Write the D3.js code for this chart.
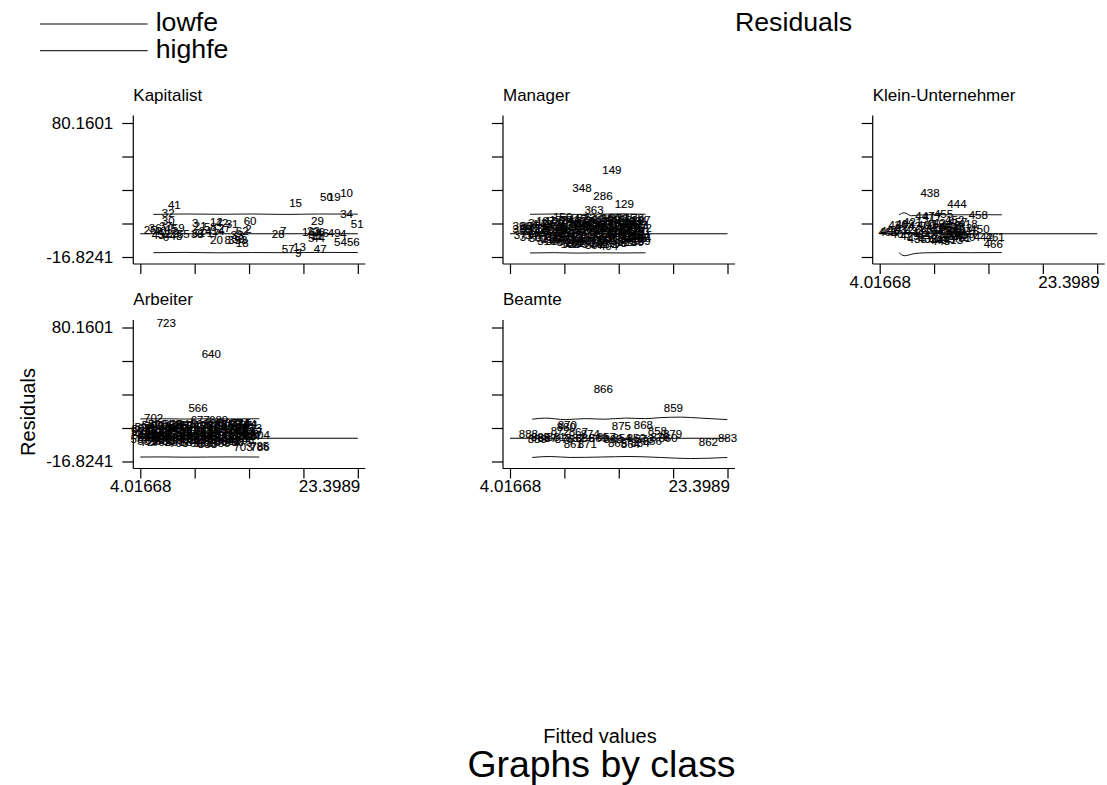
<!DOCTYPE html>
<html>
<head>
<meta charset="utf-8">
<script src="https://cdn.jsdelivr.net/npm/d3@7"></script>
<style>
body { margin: 0; background: #fff; }
text { font-family: "Liberation Sans", Arial, Helvetica, sans-serif; }
</style>
</head>
<body>
<div id="chart-area"></div>
<script>
// ---- data ----
var classes = ["Kapitalist", "Manager", "Klein-Unternehmer", "Arbeiter", "Beamte"];
var xTicks = [4.01668, 8.86224, 13.7078, 18.5533, 23.3989];
var xTickLabels = ["4.01668", "", "", "", "23.3989"];
var yTicks = [-16.8241, 7.42195, 31.668, 55.91405, 80.1601];
var yTickLabels = ["-16.8241", "", "", "", "80.1601"];
var legendLabels = ["lowfe", "highfe"];

// [obs, fitted, residual]
var kapitalist = [
  [41, 7.05, 20.9], [32, 6.5, 15.2], [30, 6.5, 9.4], [37, 6.3, 5.8], [36, 5.35, 4.3],
  [25, 4.9, 2.9], [40, 5.8, 2.2], [45, 6.7, 3.6], [52, 6.1, 0.0], [22, 6.9, 0.7],
  [43, 5.6, -1.0], [6, 6.3, -2.2], [48, 7.2, -1.2], [59, 7.4, 4.3], [55, 7.85, 0.0],
  [38, 9.1, 0.0], [3, 8.9, 8.0], [21, 9.35, 5.8], [58, 10.25, 5.1], [24, 9.8, 2.2],
  [14, 10.95, 2.2], [12, 10.8, 8.7], [42, 11.3, 8.0], [27, 11.5, 4.3], [17, 10.5, 0.7],
  [31, 12.2, 7.2], [20, 10.8, -4.3], [8, 11.8, -4.3], [35, 12.4, -4.3], [39, 12.75, -3.6],
  [53, 13.0, -4.3], [33, 12.65, -1.0], [60, 13.8, 9.4], [62, 13.1, 2.2], [2, 13.65, 3.6],
  [18, 13.1, -6.5], [28, 16.3, 0.0], [7, 16.75, 2.2], [15, 17.85, 22.4], [57, 17.2, -11.0],
  [13, 18.2, -9.4], [9, 18.1, -13.7], [47, 20.05, -11.0], [50, 20.6, 26.7], [19, 21.3, 26.7],
  [10, 22.4, 29.6], [34, 22.4, 14.4], [51, 23.35, 7.2], [29, 19.8, 9.4], [16, 19.0, 1.5],
  [23, 19.45, 2.2], [26, 19.9, 1.5], [46, 20.25, 0.7], [11, 19.7, -1.0], [44, 19.9, -2.9],
  [49, 21.3, 0.7], [4, 22.1, 0.0], [54, 21.85, -5.8], [56, 23.0, -5.8], [5, 19.25, -2.9],
  [61, 9.2, 0.7]
];

var manager = [
  [149, 13.1, 46.2], [348, 10.43, 33.0], [286, 12.3, 27.4], [129, 14.2, 21.7], [363, 11.5, 17.0],
  [156, 8.7, 12.3], [404, 12.8, -8.5], [253, 15.3, -3.1], [396, 5.1, 5.8],
  [388, 5.1, 3.4], [371, 5.2, -0.5],
  [305, 5.8, 5.6], [214, 5.9, 2.0], [377, 5.75, -2.4],
  [342, 6.5, 8.2], [118, 6.6, 4.5], [265, 6.45, 0.9], [301, 6.55, -3.0],
  [187, 7.2, 9.0], [92, 7.3, 5.0], [233, 7.25, 1.4], [170, 7.2, -2.3], [319, 7.3, -5.2],
  [108, 8.0, 9.6], [276, 7.9, 5.9], [141, 8.0, 2.3], [203, 7.95, -1.3], [355, 8.05, -5.0],
  [229, 8.7, 8.4], [99, 8.6, 4.6], [312, 8.7, 1.0], [167, 8.65, -2.6], [84, 8.75, -6.0],
  [244, 9.4, 10.2], [136, 9.35, 6.3], [295, 9.45, 2.7], [71, 9.4, -0.9], [330, 9.35, -4.5], [182, 9.4, -7.4],
  [117, 10.1, 10.9], [258, 10.05, 7.1], [88, 10.15, 3.4], [361, 10.1, -0.3], [205, 10.05, -3.8], [279, 10.1, -7.6],
  [323, 10.8, 11.5], [152, 10.85, 7.8], [240, 10.8, 4.0], [77, 10.75, 0.5], [338, 10.8, -3.2], [191, 10.85, -6.8],
  [267, 11.5, 10.0], [125, 11.55, 6.4], [352, 11.5, 2.8], [96, 11.6, -0.8], [218, 11.5, -4.4], [307, 11.55, -8.0],
  [174, 12.25, 10.9], [333, 12.2, 7.3], [249, 12.3, 3.6], [113, 12.25, 0.0], [290, 12.2, -3.6], [65, 12.3, -7.3],
  [380, 12.95, 11.6], [146, 13.0, 8.0], [211, 12.9, 4.4], [299, 13.0, 0.7], [81, 12.95, -2.9],
  [236, 13.7, 11.7], [164, 13.6, 8.1], [345, 13.7, 4.5], [102, 13.65, 0.8], [271, 13.7, -2.9], [198, 13.6, -6.3],
  [315, 14.4, 11.8], [133, 14.35, 8.8], [260, 14.4, 5.2], [90, 14.4, 1.5], [367, 14.35, -2.1], [222, 14.4, -5.7],
  [178, 15.1, 11.6], [283, 15.05, 8.0], [105, 15.1, 4.4], [340, 15.1, 0.8], [226, 15.05, -2.8], [159, 15.1, -5.6],
  [297, 15.7, 10.0], [73, 15.75, 6.3], [251, 15.7, 2.2], [384, 15.65, -1.3], [139, 15.7, -4.9],
  [143, 6.9, 6.8], [327, 7.6, 3.2], [120, 8.3, 7.0], [264, 8.35, -3.9], [357, 9.0, 0.3],
  [93, 9.75, 8.6], [209, 9.8, -5.8], [302, 10.45, 9.2], [68, 10.5, 1.9], [246, 11.2, -1.9],
  [374, 11.2, 9.0], [185, 11.85, 5.0], [318, 11.9, -5.6], [127, 12.6, 9.4], [273, 12.6, -1.0],
  [201, 13.3, 6.2], [335, 13.3, -5.2], [155, 14.0, 10.3], [288, 14.05, 2.8], [110, 14.7, -0.6],
  [358, 14.75, 6.8], [231, 15.45, 9.4], [79, 15.45, 1.1], [292, 15.8, 4.3], [194, 15.75, -2.8],
  [94, 5.5, 4.0], [347, 6.2, -0.8], [121, 6.9, 2.9], [215, 7.6, -3.4], [369, 8.3, 3.8],
  [173, 8.4, 10.4], [257, 9.0, 5.3], [101, 9.05, -2.4], [326, 9.7, 0.9], [282, 9.75, -6.6],
  [188, 10.4, 5.5], [393, 10.45, -4.8], [119, 11.15, 8.2], [360, 11.1, 3.5], [227, 11.85, 8.6],
  [74, 11.9, 1.3], [311, 12.55, 5.8], [161, 12.6, -4.6], [86, 13.3, 9.8], [254, 13.35, 2.3],
  [379, 13.35, -1.9], [196, 14.0, 6.6], [134, 14.05, -3.9], [329, 14.7, 3.4], [268, 14.75, -4.2],
  [207, 15.45, 6.2], [115, 15.45, -3.3], [391, 12.0, -7.6]
];

var klein = [
  [438, 8.5, 29.6], [444, 10.9, 21.7], [455, 9.7, 14.4], [447, 8.05, 13.0], [417, 8.7, 12.3],
  [458, 12.8, 13.7], [452, 10.7, 10.1], [457, 11.0, 8.7], [418, 11.9, 7.2], [450, 12.95, 3.6],
  [436, 5.65, 6.5], [409, 6.27, 7.2], [403, 5.55, 2.9], [406, 4.93, 2.2], [463, 4.76, 1.5],
  [421, 6.95, 8.7], [427, 7.4, 5.8], [412, 6.3, 3.6], [433, 7.1, 2.2], [405, 5.85, 0.0],
  [429, 6.7, -1.4], [411, 7.75, 0.7], [401, 8.2, 6.5], [419, 8.95, 7.2], [424, 9.6, 8.0],
  [448, 10.3, 5.8], [431, 8.5, 2.9], [426, 9.4, 3.6], [414, 10.0, 2.2], [445, 10.75, 2.9],
  [462, 11.4, 4.3], [422, 8.05, -0.7], [437, 8.85, -0.7], [453, 9.55, 0.0], [407, 10.3, -1.4],
  [460, 11.0, -0.7], [415, 11.6, 0.0], [432, 8.3, -3.6], [440, 9.2, -4.3], [449, 9.9, -3.6],
  [413, 10.6, -4.3], [451, 11.3, -2.9], [416, 12.0, 2.2], [435, 7.35, -3.6], [443, 9.45, -5.0],
  [442, 13.25, -1.9], [461, 14.3, -1.9], [466, 14.14, -7.4], [428, 9.0, 4.8], [454, 10.1, 4.8],
  [410, 10.8, 0.3], [420, 11.7, -2.0]
];

var arbeiter = [
  [723, 6.33, 83.2], [640, 10.34, 60.9], [566, 9.16, 22.3], [702, 5.2, 14.7], [677, 9.36, 13.5],
  [689, 11.0, 13.5], [744, 13.53, 10.4], [804, 14.71, 2.4], [780, 13.55, 2.0], [703, 13.17, -6.0],
  [786, 14.7, -6.0], [785, 14.65, -5.6], [774, 12.9, 10.8], [838, 10.0, -3.8], [508, 4.1, 6.5],
  [512, 4.05, 5.6], [543, 4.1, 2.3], [587, 4.0, -0.6],
  [621, 4.6, 7.6], [498, 4.7, 4.0], [655, 4.65, 0.9], [531, 4.6, -1.8],
  [709, 5.25, 8.8], [574, 5.3, 5.2], [480, 5.2, 2.0], [612, 5.3, -1.1],
  [733, 5.9, 9.3], [519, 5.85, 6.2], [648, 5.9, 3.0], [591, 5.95, -0.2], [762, 5.9, -2.3],
  [486, 6.5, 8.6], [695, 6.55, 5.5], [557, 6.5, 2.2], [811, 6.45, -0.9],
  [602, 7.15, 9.4], [747, 7.1, 6.6], [525, 7.2, 3.5], [668, 7.15, 0.4], [590, 7.1, -2.6],
  [813, 7.8, 8.9], [538, 7.75, 5.7], [711, 7.8, 2.5], [476, 7.75, -0.7],
  [629, 8.4, 9.6], [581, 8.35, 6.5], [760, 8.4, 3.2], [503, 8.45, 0.1], [684, 8.4, -2.9],
  [545, 9.0, 8.7], [796, 9.05, 5.4], [617, 9.0, 2.0], [729, 9.05, -1.3],
  [490, 9.6, 9.5], [662, 9.65, 6.2], [548, 9.6, 3.0], [819, 9.65, -0.3], [598, 9.6, -3.2],
  [737, 10.25, 8.9], [515, 10.3, 5.4], [643, 10.25, 2.1], [776, 10.3, -1.4],
  [569, 10.9, 9.8], [698, 10.85, 6.6], [482, 10.9, 3.3], [633, 10.85, 0.0], [756, 10.9, -2.5],
  [826, 11.5, 10.3], [552, 11.55, 7.1], [671, 11.5, 3.8], [527, 11.5, 0.6], [604, 11.55, -2.0],
  [718, 12.1, 10.6], [495, 12.15, 7.4], [752, 12.1, 4.1], [585, 12.15, 0.9], [692, 12.1, -1.6],
  [534, 12.75, 9.9], [789, 12.7, 6.8], [626, 12.8, 3.6], [473, 12.75, 0.4],
  [661, 13.4, 8.4], [563, 13.35, 5.1], [742, 13.4, 1.9], [606, 13.3, -0.9],
  [833, 14.0, 7.2], [517, 14.05, 4.4], [687, 14.0, 1.4],
  [594, 4.35, 8.0], [727, 4.9, -2.6], [500, 5.55, 10.2], [651, 6.2, -1.9], [578, 6.85, 10.3],
  [705, 7.45, -3.0], [541, 8.1, 10.6], [766, 8.7, -3.4], [609, 9.3, 10.7], [484, 9.95, -2.9],
  [680, 10.55, 11.0], [559, 11.2, -3.0], [801, 11.8, 11.2], [636, 12.4, -2.4], [715, 13.05, 10.9],
  [571, 13.7, 9.6], [529, 12.4, 5.8], [657, 7.5, 7.3], [740, 9.9, 7.9], [506, 11.2, 1.7],
  [614, 5.6, 0.2],
  [493, 4.3, 3.4], [522, 4.95, 1.2], [539, 5.55, 6.9], [565, 6.2, 4.1], [588, 6.85, 1.0],
  [611, 7.45, 4.6], [635, 8.1, 1.6], [659, 8.7, 5.5], [683, 9.3, 0.8], [707, 9.95, 4.4],
  [731, 10.55, 0.9], [755, 11.2, 4.8], [779, 11.85, 8.8], [803, 12.45, 1.8], [827, 13.1, 4.8],
  [478, 13.75, 2.9], [501, 8.1, -1.3], [523, 11.8, -0.6], [547, 5.0, 9.6], [575, 13.1, -2.4],
  [596, 7.4, 10.0]
];

var beamte = [
  [866, 12.33, 35.7], [859, 18.58, 22.1], [875, 13.94, 9.1], [868, 15.9, 9.9], [858, 17.15, 5.5],
  [879, 18.5, 3.4], [870, 9.12, 9.9], [880, 9.03, 8.4], [872, 8.5, 5.5], [867, 10.1, 4.8],
  [874, 11.17, 3.4], [888, 5.65, 3.4], [885, 6.72, 1.2], [887, 7.35, 0.5], [881, 8.15, 1.2],
  [876, 8.86, -0.2], [882, 9.84, 0.5], [861, 9.66, -3.8], [871, 10.9, -3.8], [869, 11.9, 0.5],
  [857, 12.6, 1.2], [863, 13.2, -0.2], [854, 14.0, 0.5], [865, 13.6, -3.1], [864, 14.74, -3.8],
  [852, 15.27, 0.5], [873, 15.98, -0.2], [856, 16.7, -1.7], [878, 17.4, 1.2], [860, 18.1, 0.5],
  [884, 15.6, -3.1], [862, 21.7, -2.4], [883, 23.4, 0.5], [886, 10.7, 0.5], [889, 6.45, -0.2]
];

// lowfe / highfe bands: [fitted, value]
var kapitalistLow = [[5.18, -13.7], [8, -13.5], [11, -13.8], [14, -13.6], [17, -13.7], [20, -13.5], [23.4, -13.6]];
var kapitalistHigh = [[5.18, 14.0], [8, 14.3], [11, 14.1], [14, 14.3], [17, 14.0], [20, 14.3], [23.4, 14.2]];
var managerLow = [[5.8, -13.9], [8, -13.7], [10, -14.0], [12, -13.8], [14, -13.9], [16.1, -13.8]];
var managerHigh = [[5.8, 14.1], [8, 14.3], [10, 14.0], [12, 14.2], [14, 14.4], [16.1, 14.1]];
var kleinLow = [[5.74, -13.7], [6.2, -15.9], [7.1, -14.4], [8, -13.8], [10, -13.6], [12, -13.7], [14.9, -13.6]];
var kleinHigh = [[5.74, 13.7], [6.2, 15.2], [6.85, 13.0], [7.5, 13.6], [9, 13.8], [11, 13.7], [13, 13.8], [14.9, 13.7]];
var arbeiterLow = [[4.02, -13.6], [6, -13.5], [8, -13.7], [10, -13.6], [12, -13.5], [14.62, -13.6]];
var arbeiterHigh = [[4.02, 14.0], [6, 14.1], [8, 13.9], [10, 14.1], [12, 14.0], [14.62, 14.1]];
var beamteLow = [[6.0, -13.9], [7.6, -13.2], [9.4, -13.9], [12.1, -13.6], [14.7, -13.2], [17.4, -13.9], [20.1, -14.7], [23.38, -13.9]];
var beamteHigh = [[6.0, 13.8], [7.16, 14.6], [8.95, 13.5], [10.73, 14.2], [12.51, 13.8], [14.29, 14.6], [16.07, 14.2], [17.41, 14.9], [19.2, 15.3], [20.98, 14.6], [23.38, 13.5]];

// ---- layout ----
var width = 1107, height = 785;
var colX = [133.3, 503, 872.7];
var rowTop = [115.5, 320];
var rowBottom = [264, 468.5];

var panels = [
  { name: classes[0], col: 0, row: 0, pts: kapitalist, low: kapitalistLow, high: kapitalistHigh },
  { name: classes[1], col: 1, row: 0, pts: manager, low: managerLow, high: managerHigh },
  { name: classes[2], col: 2, row: 0, pts: klein, low: kleinLow, high: kleinHigh },
  { name: classes[3], col: 0, row: 1, pts: arbeiter, low: arbeiterLow, high: arbeiterHigh },
  { name: classes[4], col: 1, row: 1, pts: beamte, low: beamteLow, high: beamteHigh }
];
// panels that carry x tick labels (bottom of their column)
var showX = { "Klein-Unternehmer": true, "Arbeiter": true, "Beamte": true };

var svg = d3.select("#chart-area")
  .append("svg")
    .attr("width", width)
    .attr("height", height);

svg.append("rect").attr("width", width).attr("height", height).attr("fill", "#fff");

panels.forEach(function(p){
  var ax = colX[p.col],
      top = rowTop[p.row],
      bottom = rowBottom[p.row];

  var x = d3.scaleLinear()
    .domain([xTicks[0], xTicks[4]])
    .range([ax + 7, ax + 224.5]);
  var y = d3.scaleLinear()
    .domain([yTicks[0], yTicks[4]])
    .range([bottom - 7, top + 7.5]);

  var g = svg.append("g");

  // title
  g.append("text")
    .attr("x", ax)
    .attr("y", top - 15)
    .attr("font-size", "17px")
    .text(p.name);

  // y axis
  var yAxis = d3.axisLeft(y)
    .tickValues(yTicks)
    .tickSize(11)
    .tickPadding(9)
    .tickFormat(function(d, i){ return p.col === 0 ? yTickLabels[i] : ""; });
  var ya = g.append("g")
    .attr("transform", "translate(" + ax + ",0)")
    .call(yAxis);
  ya.select(".domain").remove();
  ya.selectAll("line").attr("stroke", "#000").attr("stroke-width", 1.2);
  ya.selectAll("text").attr("font-size", "17px").attr("fill", "#000")
    .style("font-family", "'Liberation Sans', Arial, sans-serif");

  // x axis
  var xAxis = d3.axisBottom(x)
    .tickValues(xTicks)
    .tickSize(10)
    .tickPadding(1.5)
    .tickFormat(function(d, i){ return showX[p.name] ? xTickLabels[i] : ""; });
  var xa = g.append("g")
    .attr("transform", "translate(0," + bottom + ")")
    .call(xAxis);
  xa.select(".domain").remove();
  xa.selectAll("line").attr("stroke", "#000").attr("stroke-width", 1.2);
  xa.selectAll("text").attr("font-size", "17px").attr("fill", "#000")
    .style("font-family", "'Liberation Sans', Arial, sans-serif");
  xa.selectAll(".tick").filter(function(d, i){ return i === 4; }).select("text")
    .attr("text-anchor", "end")
    .attr("x", 2);

  // axis lines (span the whole plot region)
  g.append("line")
    .attr("x1", ax).attr("x2", ax)
    .attr("y1", top).attr("y2", bottom)
    .attr("stroke", "#000").attr("stroke-width", 1.2);
  g.append("line")
    .attr("x1", ax).attr("x2", ax + 232)
    .attr("y1", bottom).attr("y2", bottom)
    .attr("stroke", "#000").attr("stroke-width", 1.2);

  // zero line
  g.append("line")
    .attr("x1", x(xTicks[0])).attr("x2", x(xTicks[4]))
    .attr("y1", y(0)).attr("y2", y(0))
    .attr("stroke", "#000").attr("stroke-width", 1);

  var line = d3.line()
    .x(function(d){ return x(d[0]); })
    .y(function(d){ return y(d[1]); })
    .curve(d3.curveMonotoneX);

  [p.low, p.high].forEach(function(band){
    g.append("path")
      .datum(band)
      .attr("d", line)
      .attr("fill", "none")
      .attr("stroke", "#111")
      .attr("stroke-width", 1);
  });

  // marker labels
  g.selectAll(".mlab")
    .data(p.pts)
    .enter()
    .append("text")
      .attr("class", "mlab")
      .attr("x", function(d){ return x(d[1]); })
      .attr("y", function(d){ return y(d[2]); })
      .attr("dy", "0.36em")
      .attr("text-anchor", "middle")
      .attr("font-size", "11.5px")
      .attr("fill", "#000")
      .attr("stroke", "#000")
      .attr("stroke-width", 0.12)
      .text(function(d){ return d[0]; });
});

// legend
legendLabels.forEach(function(lab, i){
  var ly = 24 + i * 26.7;
  svg.append("line")
    .attr("x1", 40).attr("x2", 147.7)
    .attr("y1", ly).attr("y2", ly)
    .attr("stroke", "#000").attr("stroke-width", 1);
  svg.append("text")
    .attr("x", 155.7)
    .attr("y", ly + 7)
    .attr("font-size", "26.7px")
    .text(lab);
});
svg.append("text")
  .attr("x", 735)
  .attr("y", 31)
  .attr("font-size", "26.7px")
  .text("Residuals");

// axis titles and note
svg.append("text")
  .attr("transform", "translate(35,412) rotate(-90)")
  .attr("text-anchor", "middle")
  .attr("font-size", "20px")
  .text("Residuals");
svg.append("text")
  .attr("x", 600)
  .attr("y", 743)
  .attr("text-anchor", "middle")
  .attr("font-size", "20px")
  .text("Fitted values");
svg.append("text")
  .attr("x", 601.5)
  .attr("y", 777)
  .attr("text-anchor", "middle")
  .attr("font-size", "37.4px")
  .text("Graphs by class");
</script>
</body>
</html>
